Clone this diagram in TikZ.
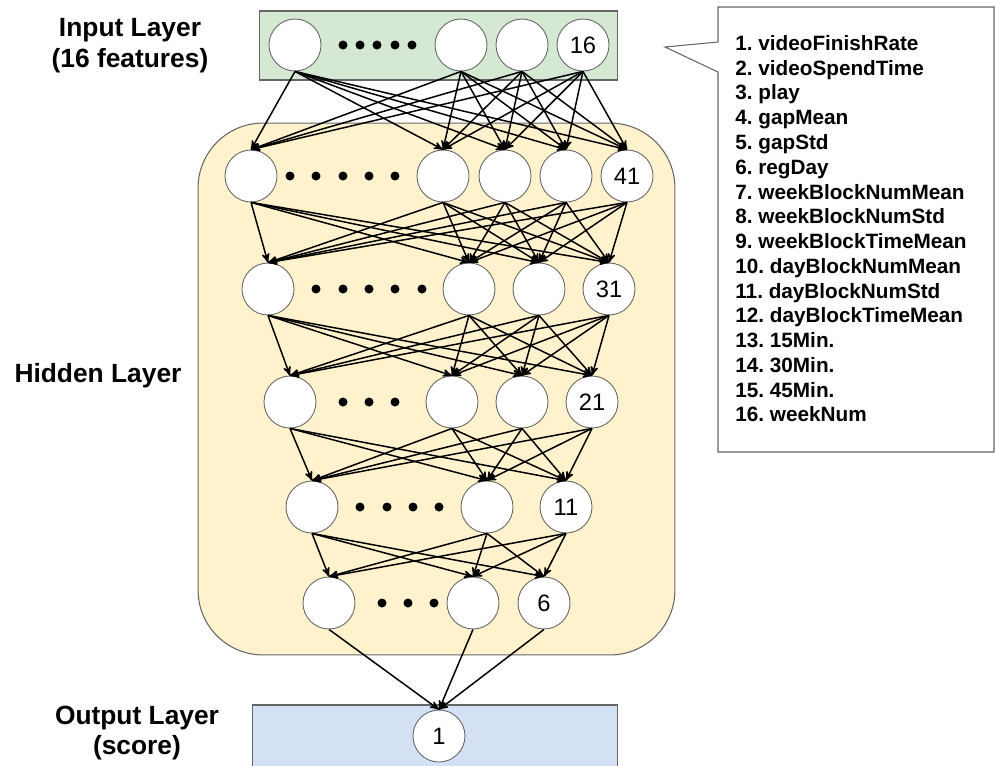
\documentclass[tikz,border=0pt]{standalone}
\usepackage{fontspec}
\setmainfont{Liberation Sans}
\usetikzlibrary{arrows}
\definecolor{inputfill}{HTML}{D5E8D4}
\definecolor{hiddenfill}{HTML}{FFF2CC}
\definecolor{outputfill}{HTML}{D4E1F5}
\definecolor{edgegray}{HTML}{666666}
\tikzstyle{layerbox} = [rectangle, draw=edgegray, line width=0.6pt, inner sep=0pt]
\tikzstyle{neuron} = [circle, minimum size=1.04cm, inner sep=0pt, draw=edgegray, line width=0.5pt, fill=white, font=\fontsize{13.5}{15}\selectfont]
\tikzstyle{layerlabel} = [align=center, font=\fontsize{15}{17.5}\selectfont\bfseries]
\tikzstyle{arrow} = [line width=0.85pt,->,>=stealth']

\begin{document}
\frenchspacing
\begin{tikzpicture}[x=0.02cm, y=-0.02cm]
		\useasboundingbox (0,0) rectangle (995,765);
		% layer boxes
		\node (inbox) [layerbox, fill=inputfill, minimum width=7.18cm, minimum height=1.38cm] at (438.5,45.5) {};
		\node (hidbox) [layerbox, fill=hiddenfill, rounded corners=1.3cm, minimum width=9.54cm, minimum height=10.64cm] at (436.5,389) {};
		\node (outbox) [layerbox, fill=outputfill, minimum width=7.32cm, minimum height=1.4cm] at (435,740) {};
		% labels
		\node (inlabel) [layerlabel] at (130,46) {Input Layer\\(16 features)};
		\node (hidlabel) [layerlabel] at (98,376) {Hidden Layer};
		\node (outlabel) [layerlabel] at (137,733) {Output Layer\\(score)};
		% input layer
		\node (in1) [neuron] at (295,45) {};
		\node (in2) [neuron] at (461,45) {};
		\node (in3) [neuron] at (522,45) {};
		\node (in4) [neuron] at (583,45) {16};
		% hidden layers
		\node (ha1) [neuron] at (251,176) {};
		\node (ha2) [neuron] at (443,176) {};
		\node (ha3) [neuron] at (505,176) {};
		\node (ha4) [neuron] at (566,176) {};
		\node (ha5) [neuron] at (627,176) {41};
		\node (hb1) [neuron] at (268,289) {};
		\node (hb2) [neuron] at (469,289) {};
		\node (hb3) [neuron] at (539,289) {};
		\node (hb4) [neuron] at (609,289) {31};
		\node (hc1) [neuron] at (290,402) {};
		\node (hc2) [neuron] at (452,402) {};
		\node (hc3) [neuron] at (522,402) {};
		\node (hc4) [neuron] at (592,402) {21};
		\node (hd1) [neuron] at (312,507) {};
		\node (hd2) [neuron] at (487,507) {};
		\node (hd3) [neuron] at (566,507) {11};
		\node (he1) [neuron] at (329,603) {};
		\node (he2) [neuron] at (473,603) {};
		\node (he3) [neuron] at (544,603) {6};
		% output layer
		\node (out) [neuron] at (439,736) {1};
		% dots
		\foreach \x in {343,360,377,395,412} \fill (\x,45) circle (0.09cm);
		\foreach \x in {290,316,343,369,395} \fill (\x,176) circle (0.09cm);
		\foreach \x in {316,343,369,395,422} \fill (\x,289) circle (0.09cm);
		\foreach \x in {343,369,395} \fill (\x,402) circle (0.09cm);
		\foreach \x in {360,387,413,439} \fill (\x,507) circle (0.09cm);
		\foreach \x in {382,408,434} \fill (\x,603) circle (0.09cm);
		% connections
		\foreach \s in {1,...,4} \foreach \t in {1,...,5} \draw [arrow] (in\s.south) -- (ha\t.north);
		\foreach \s in {1,...,5} \foreach \t in {1,...,4} \draw [arrow] (ha\s.south) -- (hb\t.north);
		\foreach \s in {1,...,4} \foreach \t in {1,...,4} \draw [arrow] (hb\s.south) -- (hc\t.north);
		\foreach \s in {1,...,4} \foreach \t in {1,...,3} \draw [arrow] (hc\s.south) -- (hd\t.north);
		\foreach \s in {1,...,3} \foreach \t in {1,...,3} \draw [arrow] (hd\s.south) -- (he\t.north);
		\foreach \s in {1,...,3} \draw [arrow] (he\s.south) -- (out.north);
		% feature list
		\draw [draw=edgegray, line width=0.6pt, fill=white] (718,7) -- (994,7) -- (994,452) -- (718,452) -- (718,72) -- (665,47) -- (718,42) -- cycle;
		\node (legend) [anchor=north west, align=left, inner sep=0pt, font=\fontsize{11.8}{14.1}\selectfont\bfseries] at (735,35) {1. videoFinishRate\\2. videoSpendTime\\3. play\\4. gapMean\\5. gapStd\\6. regDay\\7. weekBlockNumMean\\8. weekBlockNumStd\\9. weekBlockTimeMean\\10. dayBlockNumMean\\11. dayBlockNumStd\\12. dayBlockTimeMean\\13. 15Min.\\14. 30Min.\\15. 45Min.\\16. weekNum};
	\end{tikzpicture}
\end{document}
